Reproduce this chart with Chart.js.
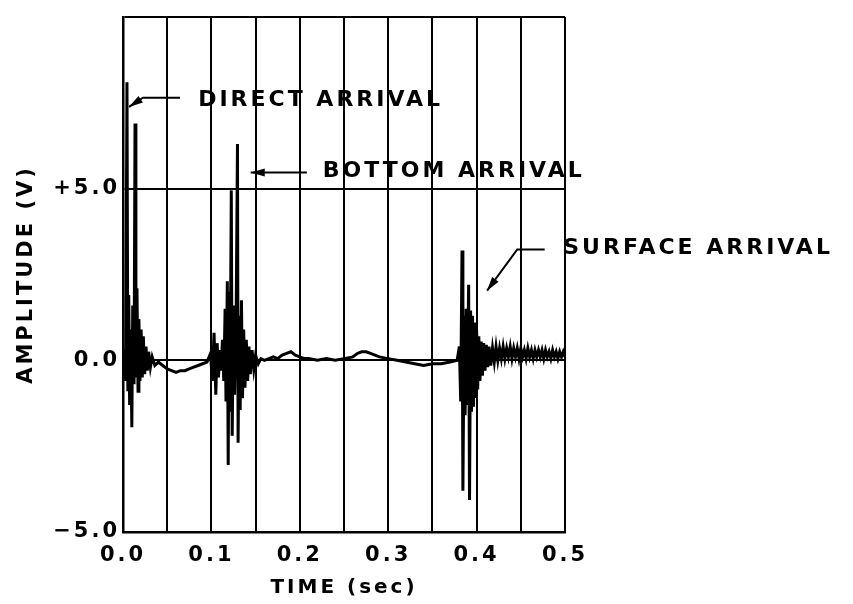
<!DOCTYPE html>
<html>
<head>
<meta charset="utf-8">
<script src="https://cdn.jsdelivr.net/npm/chart.js@4"></script>
<style>
  html, body { margin: 0; padding: 0; background: #fff; }
  #wrap { width: 853px; height: 604px; }
</style>
</head>
<body>
<div id="wrap"><canvas id="canvas1" width="853" height="604"></canvas></div>
<script>
// time axis (sec) and trace amplitude (V)
var time = [
  0.000, 0.002, 0.003, 0.0045, 0.0055, 0.0065, 0.0075, 0.0085, 0.0100, 0.0110,
  0.0125, 0.0136, 0.0146, 0.0158, 0.0170, 0.0180, 0.0192, 0.0205, 0.0218, 0.0230,
  0.0245, 0.0260, 0.0275, 0.0290, 0.0310, 0.0330, 0.0360, 0.0400, 0.0450, 0.0500,
  0.0550, 0.0600, 0.0650, 0.0700, 0.0750, 0.0800, 0.0850, 0.0900, 0.0950, 0.0990,
  0.1010, 0.1030, 0.1050, 0.1065, 0.1080, 0.1095, 0.1110, 0.1125, 0.1140, 0.1155,
  0.1165, 0.1180, 0.1190, 0.1200, 0.1210, 0.1225, 0.1235, 0.1250, 0.1262, 0.1280,
  0.1295, 0.1302, 0.1315, 0.1325, 0.1340, 0.1352, 0.1365, 0.1380, 0.1395, 0.1410,
  0.1425, 0.1440, 0.1460, 0.1480, 0.1500, 0.1530, 0.1560, 0.1600, 0.1650, 0.1700,
  0.1750, 0.1800, 0.1850, 0.1900, 0.1950, 0.2000, 0.2050, 0.2100, 0.2200, 0.2300,
  0.2400, 0.2500, 0.2600, 0.2650, 0.2700, 0.2750, 0.2800, 0.2850, 0.2900, 0.3000,
  0.3100, 0.3200, 0.3300, 0.3400, 0.3500, 0.3600, 0.3700, 0.3780, 0.3805, 0.3820,
  0.3835, 0.3845, 0.3860, 0.3870, 0.3882, 0.3893, 0.3910, 0.3920, 0.3932, 0.3942,
  0.3954, 0.3965, 0.3977, 0.3988, 0.4000, 0.4012, 0.4025, 0.4038, 0.4052, 0.4066,
  0.4080, 0.4095, 0.4110, 0.4125, 0.4140, 0.4160, 0.4180, 0.4200, 0.4220, 0.4240,
  0.4260, 0.4280, 0.4300, 0.4320, 0.4340, 0.4360, 0.4380, 0.4400, 0.4420, 0.4440,
  0.4460, 0.4480, 0.4500, 0.4520, 0.4540, 0.4560, 0.4580, 0.4600, 0.4620, 0.4640,
  0.4660, 0.4680, 0.4700, 0.4720, 0.4740, 0.4760, 0.4780, 0.4800, 0.4820, 0.4840,
  0.4860, 0.4880, 0.4900, 0.4920, 0.4940, 0.4960, 0.4980, 0.5000
];
var amplitude = [
  0.0, 0.3, -0.6, 8.1, -0.9, 1.9, -1.3, 0.9, -1.95, 1.6,
  -0.7, 6.9, -0.5, 2.1, -0.9, 1.2, -0.6, 0.9, -0.5, 0.7,
  -0.4, 0.4, -0.3, 0.25, -0.2, 0.1, -0.15, -0.05, -0.15, -0.25,
  -0.3, -0.35, -0.3, -0.3, -0.25, -0.2, -0.15, -0.1, -0.05, 0.2,
  -0.6, 0.8, -1.0, 0.5, -0.5, 0.3, -0.3, 0.6, -0.6, 1.5,
  -1.2, 2.3, -3.05, 2.0, -1.5, 4.95, -2.2, 1.6, -1.0, 1.2,
  6.3, -2.4, 1.3, -1.45, 1.75, -1.1, 0.9, -0.8, 0.6, -0.6,
  0.4, -0.4, 0.3, -0.25, 0.15, -0.1, 0.05, 0.0, 0.05, 0.1,
  0.05, 0.15, 0.2, 0.25, 0.15, 0.1, 0.05, 0.05, 0.0, 0.05,
  0.0, 0.05, 0.1, 0.2, 0.25, 0.25, 0.2, 0.15, 0.1, 0.05,
  0.0, -0.05, -0.1, -0.15, -0.1, -0.1, -0.05, 0.0, 0.4, -1.2,
  3.2, -3.8, 1.3, -1.6, 1.5, -1.3, 2.2, -4.07, 1.45, -1.5,
  1.3, -1.35, 1.1, -1.1, 0.9, -0.85, 0.7, -0.6, 0.55, -0.45,
  0.5, -0.3, 0.45, -0.2, 0.4, -0.15, 0.35, -0.05, 0.4, 0.0,
  0.35, 0.05, 0.4, 0.05, 0.35, 0.1, 0.4, 0.05, 0.35, 0.1,
  0.35, 0.05, 0.35, 0.1, 0.3, 0.05, 0.35, 0.1, 0.3, 0.05,
  0.3, 0.1, 0.3, 0.1, 0.3, 0.05, 0.3, 0.1, 0.25, 0.05,
  0.3, 0.1, 0.25, 0.05, 0.25, 0.1, 0.25, 0.1
];

// tick positions and labels
var xTicks = [0, 0.05, 0.1, 0.15, 0.2, 0.25, 0.3, 0.35, 0.4, 0.45, 0.5];
var xTickLabels = ["0.0", "", "0.1", "", "0.2", "", "0.3", "", "0.4", "", "0.5"];
var yTicks = [-5, 0, 5, 10];
var yTickLabels = ["\u22125.0", "0.0", "+5.0", ""];

// callouts: label anchor and leader line in data units
var calloutText = ["DIRECT ARRIVAL", "BOTTOM ARRIVAL", "SURFACE ARRIVAL"];
var calloutAt = [[0.085, 7.56], [0.226, 5.52], [0.498, 3.26]];
var calloutLine = [
  [[0.0645, 7.65], [0.0226, 7.65], [0.0068, 7.38]],
  [[0.208, 5.47], [0.1445, 5.47]],
  [[0.477, 3.23], [0.446, 3.23], [0.4118, 2.03]]
];

var FONT = "'DejaVu Sans', 'Liberation Sans', sans-serif";
var SPACING = "3px";

var spacingPlugin = {
  id: "spacing",
  beforeLayout: function(chart) { chart.ctx.letterSpacing = SPACING; },
  beforeDraw: function(chart) { chart.ctx.letterSpacing = SPACING; }
};

var calloutPlugin = {
  id: "callouts",
  afterDraw: function(chart) {
    var ctx = chart.ctx, xs = chart.scales.x, ys = chart.scales.y;
    ctx.save();
    ctx.letterSpacing = SPACING;
    ctx.fillStyle = "#000";
    ctx.strokeStyle = "#000";
    ctx.font = "bold 22px " + FONT;
    ctx.textAlign = "left";
    ctx.textBaseline = "middle";
    for (var i = 0; i < calloutText.length; i++) {
      ctx.fillText(calloutText[i], xs.getPixelForValue(calloutAt[i][0]), ys.getPixelForValue(calloutAt[i][1]));
      var pts = calloutLine[i].map(function(p) {
        return [xs.getPixelForValue(p[0]), ys.getPixelForValue(p[1])];
      });
      ctx.lineWidth = 2;
      ctx.beginPath();
      ctx.moveTo(pts[0][0], pts[0][1]);
      for (var j = 1; j < pts.length; j++) ctx.lineTo(pts[j][0], pts[j][1]);
      ctx.stroke();
      // arrow head
      var a = pts[pts.length - 2], b = pts[pts.length - 1];
      var ang = Math.atan2(b[1] - a[1], b[0] - a[0]);
      ctx.beginPath();
      ctx.moveTo(b[0], b[1]);
      ctx.lineTo(b[0] - 14 * Math.cos(ang) + 4 * Math.sin(ang), b[1] - 14 * Math.sin(ang) - 4 * Math.cos(ang));
      ctx.lineTo(b[0] - 14 * Math.cos(ang) - 4 * Math.sin(ang), b[1] - 14 * Math.sin(ang) + 4 * Math.cos(ang));
      ctx.closePath();
      ctx.fill();
    }
    ctx.restore();
  }
};

var ctx = document.getElementById("canvas1").getContext("2d");
var trace = time.map(function(t, i) { return { x: t, y: amplitude[i] }; });

new Chart(ctx, {
  type: "line",
  data: {
    datasets: [{
      data: trace,
      borderColor: "#000",
      borderWidth: 3,
      pointRadius: 0,
      tension: 0,
      fill: false
    }]
  },
  options: {
    responsive: false,
    animation: false,
    layout: { padding: { top: 17, right: 288, left: 0, bottom: 0 } },
    plugins: { legend: { display: false }, tooltip: { enabled: false } },
    scales: {
      x: {
        type: "linear",
        min: 0,
        max: 0.5,
        afterBuildTicks: function(s) { s.ticks = xTicks.map(function(v) { return { value: v }; }); },
        afterFit: function(s) { s.height = 72; },
        grid: { color: "#000", lineWidth: 2, drawTicks: false },
        border: { color: "#000", width: 2.5 },
        ticks: {
          padding: 11,
          autoSkip: false,
          maxRotation: 0,
          color: "#000",
          font: { family: FONT, size: 21, weight: "bold" },
          callback: function(v, i) { return xTickLabels[i]; }
        },
        title: {
          display: true,
          text: "TIME (sec)",
          color: "#000",
          font: { family: FONT, size: 20, weight: "bold" },
          padding: { top: 0, bottom: 4 }
        }
      },
      y: {
        type: "linear",
        min: -5,
        max: 10,
        afterBuildTicks: function(s) { s.ticks = yTicks.map(function(v) { return { value: v }; }); },
        afterFit: function(s) { s.width = 123; },
        grid: { color: "#000", lineWidth: 2, drawTicks: false },
        border: { color: "#000", width: 2.5 },
        ticks: {
          padding: 3,
          autoSkip: false,
          color: "#000",
          font: { family: FONT, size: 21, weight: "bold" },
          callback: function(v, i) { return yTickLabels[i]; }
        },
        title: {
          display: true,
          text: "AMPLITUDE (V)",
          color: "#000",
          font: { family: FONT, size: 21, weight: "bold" },
          padding: { top: 14, bottom: 0 }
        }
      }
    }
  },
  plugins: [spacingPlugin, calloutPlugin]
});
</script>
</body>
</html>
